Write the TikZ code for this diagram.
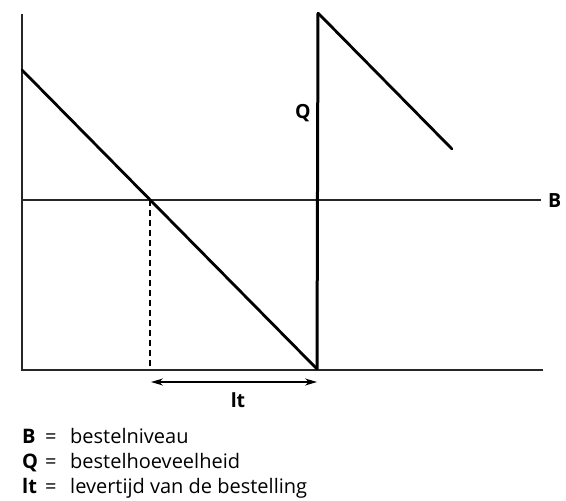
\documentclass[tikz,border=0pt]{standalone}
\usepackage{fontspec}
\setmainfont{Open Sans}
\usetikzlibrary{arrows.meta}
\begin{document}
\begin{tikzpicture}[x=1pt,y=-1pt,
  axisline/.style={line width=1.3pt,black!85},
  stockline/.style={line width=2.8pt,line cap=round,line join=round},
  lbl/.style={font=\fontsize{19.5}{22}\selectfont\bfseries,inner sep=0pt},
  legtxt/.style={font=\fontsize{20}{22}\selectfont,inner sep=0pt,anchor=base west},
  legkey/.style={legtxt,font=\fontsize{20}{22}\selectfont\bfseries}]
\useasboundingbox (0,0) rectangle (566,501);
% axes
\coordinate (top) at (22,14);
\coordinate (orig) at (22,370);
\coordinate (xend) at (543,370);
\coordinate (bl) at (22,200);
\coordinate (br) at (541,200);
\draw[axisline] (top) -- (orig) -- (xend);
\draw[axisline] (bl) -- (br);
\node[lbl,anchor=west] (B) at (548,201) {B};
% stock level
\coordinate (s0) at (22,70);
\coordinate (cross) at (150,200);
\coordinate (low) at (317,369);
\coordinate (peak) at (318,13);
\coordinate (s1) at (452,149);
\draw[stockline] (s0) -- (low);
\draw[line width=3pt] (low) -- (peak);
\draw[stockline] (peak) -- (s1);
\node[lbl] (Q) at (303,113) {Q};
% lead time
\coordinate (dbot) at (150,368);
\draw[line width=1.2pt,dash pattern=on 6pt off 4pt] (cross) -- (dbot);
\coordinate (a1) at (151,382);
\coordinate (a2) at (317,382);
\draw[line width=1.3pt,{Stealth[length=12pt,width=7pt]}-{Stealth[length=12pt,width=7pt]}] (a1) -- (a2);
\node[lbl] (lt) at (238,400) {lt};
% legend
\node[legkey] (kB) at (22,443) {B};
\node[legtxt] (eB) at (45,443) {=};
\node[legtxt] (tB) at (70,443) {bestelniveau};
\node[legkey] (kQ) at (22,468) {Q};
\node[legtxt] (eQ) at (45,468) {=};
\node[legtxt] (tQ) at (70,468) {bestelhoeveelheid};
\node[legkey] (kl) at (22,493) {lt};
\node[legtxt] (el) at (45,493) {=};
\node[legtxt] (tl) at (70,493) {levertijd van de bestelling};
\end{tikzpicture}
\end{document}
